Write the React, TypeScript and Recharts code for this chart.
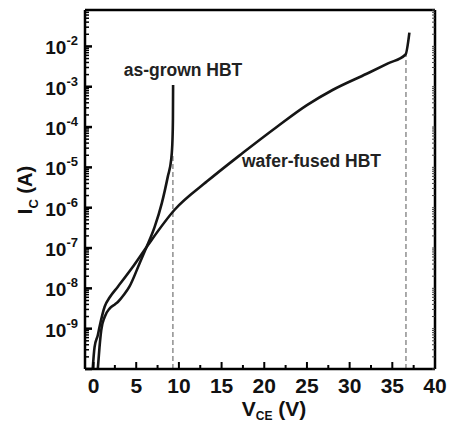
import React from 'react';
import { LineChart, Line, XAxis, YAxis, ReferenceLine } from 'recharts';

const FONT = '"Liberation Sans", Arial, Helvetica, sans-serif';

// as-grown HBT: V_CE (V) and I_C (A)
const asGrownV = [0.5, 0.7, 0.9, 1.3, 1.9, 2.5, 2.85, 3.6, 4.2, 5.4, 6.2, 7.15, 8.0, 8.7, 9.1, 9.25, 9.3, 9.32];
const asGrownI = [1.0e-10, 3.5e-10, 9.1e-10, 1.95e-9, 3.2e-9, 4.0e-9, 4.6e-9, 7.1e-9, 1.1e-8, 4.2e-8, 1.05e-7, 3.3e-7, 1.3e-6, 5.9e-6, 1.6e-5, 5.0e-5, 1.6e-4, 1.1e-3];

// wafer-fused HBT
const waferV = [-0.1, 0.12, 0.5, 0.7, 1.3, 1.9, 2.85, 4.5, 6.2, 9.5, 13.3, 17.5, 21.5, 25.0, 28.0, 32.0, 34.5, 36.55, 37.0];
const waferI = [1.0e-10, 3.5e-10, 6.9e-10, 1.1e-9, 3.5e-9, 6.0e-9, 1.1e-8, 3.2e-8, 1.05e-7, 8.9e-7, 4.5e-6, 2.3e-5, 1.02e-4, 3.5e-4, 8.3e-4, 2.1e-3, 3.8e-3, 6.3e-3, 2.2e-2];

// breakdown markers (dashed verticals)
const asGrownBreakdownV = 9.3;
const asGrownBreakdownI = 2.0e-5;
const waferBreakdownV = 36.6;
const waferBreakdownI = 6.5e-3;

const xDomain = [-1, 40];
const xTicks = [0, 2.5, 5, 7.5, 10, 12.5, 15, 17.5, 20, 22.5, 25, 27.5, 30, 32.5, 35, 37.5, 40];
const xLabelTicks = [0, 5, 10, 15, 20, 25, 30, 35, 40];

const yDomain = [1e-10, 0.08];
const yExponents = [-10, -9, -8, -7, -6, -5, -4, -3, -2];
const yLabelExponents = [-9, -8, -7, -6, -5, -4, -3, -2];
const yMantissas = [1, 2, 3, 4, 5, 6, 7, 8, 9];

const yTicks: number[] = [];
yExponents.forEach((e) => {
  yMantissas.forEach((m) => {
    const v = Number((m * Math.pow(10, e)).toPrecision(3));
    if (v <= yDomain[1]) yTicks.push(v);
  });
});

const asGrownData = asGrownV.map((v, k) => ({ v, i: asGrownI[k] }));
const waferData = waferV.map((v, k) => ({ v, i: waferI[k] }));

const isMajorY = (v: number) => {
  const l = Math.log10(v);
  return Math.abs(l - Math.round(l)) < 1e-6;
};

const BottomTick = (props: any) => {
  const { x, y, payload } = props;
  const v = payload.value;
  const major = xLabelTicks.includes(v);
  return (
    <g>
      <line x1={x} x2={x} y1={y} y2={y - (major ? 7 : 4)} stroke="#000" strokeWidth={2} />
      {major && (
        <text x={x} y={y + 24} textAnchor="middle" fontSize={21} fontWeight="bold" fontFamily={FONT} fill="#111">
          {v}
        </text>
      )}
    </g>
  );
};

const TopTick = (props: any) => {
  const { x, y } = props;
  return <line x1={x} x2={x} y1={y} y2={y + 3} stroke="#444" strokeWidth={1} />;
};

const LeftTick = (props: any) => {
  const { x, y, payload } = props;
  const v = payload.value;
  const major = isMajorY(v);
  const e = Math.round(Math.log10(v));
  const showLabel = major && yLabelExponents.includes(e);
  return (
    <g>
      <line x1={x} x2={x + (major ? 7 : 4)} y1={y} y2={y} stroke="#000" strokeWidth={major ? 2.5 : 1.5} />
      {showLabel && (
        <text x={x - 7} y={y + 8} textAnchor="end" fontSize={19} fontWeight="bold" fontFamily={FONT} fill="#111">
          10
          <tspan dy={-9} fontSize={13}>{String(e)}</tspan>
        </text>
      )}
    </g>
  );
};

const RightTick = (props: any) => {
  const { x, y } = props;
  return <line x1={x} x2={x - 3} y1={y} y2={y} stroke="#444" strokeWidth={1} />;
};

export default function App() {
  return (
    <div style={{ position: 'absolute', left: 0, top: 0, width: 449, height: 424, background: '#fff' }}>
      <LineChart width={449} height={424} margin={{ top: 0, right: 0, bottom: 0, left: 0 }}>
        <XAxis
          xAxisId="b"
          type="number"
          dataKey="v"
          domain={xDomain}
          ticks={xTicks}
          allowDataOverflow
          orientation="bottom"
          height={55}
          tickSize={0}
          tickMargin={0}
          tickLine={false}
          axisLine={{ stroke: '#000', strokeWidth: 2.5 }}
          tick={<BottomTick />}
          interval={0}
        />
        <XAxis
          xAxisId="t"
          type="number"
          domain={xDomain}
          ticks={xTicks}
          allowDataOverflow
          orientation="top"
          height={10}
          tickSize={0}
          tickMargin={0}
          tickLine={false}
          axisLine={{ stroke: '#000', strokeWidth: 2.5 }}
          tick={<TopTick />}
          interval={0}
        />
        <YAxis
          yAxisId="l"
          type="number"
          scale="log"
          domain={yDomain}
          ticks={yTicks}
          allowDataOverflow
          orientation="left"
          width={85}
          tickSize={0}
          tickMargin={0}
          tickLine={false}
          axisLine={{ stroke: '#000', strokeWidth: 2.5 }}
          tick={<LeftTick />}
          interval={0}
        />
        <YAxis
          yAxisId="r"
          type="number"
          scale="log"
          domain={yDomain}
          ticks={yTicks}
          allowDataOverflow
          orientation="right"
          width={14}
          tickSize={0}
          tickMargin={0}
          tickLine={false}
          axisLine={{ stroke: '#000', strokeWidth: 2.5 }}
          tick={<RightTick />}
          interval={0}
        />
        <ReferenceLine
          xAxisId="b"
          yAxisId="l"
          segment={[{ x: asGrownBreakdownV, y: yDomain[0] }, { x: asGrownBreakdownV, y: asGrownBreakdownI }]}
          stroke="#555"
          strokeWidth={1}
          strokeDasharray="5 3"
        />
        <ReferenceLine
          xAxisId="b"
          yAxisId="l"
          segment={[{ x: waferBreakdownV, y: yDomain[0] }, { x: waferBreakdownV, y: waferBreakdownI }]}
          stroke="#555"
          strokeWidth={1}
          strokeDasharray="5 3"
        />
        <Line
          xAxisId="b"
          yAxisId="l"
          data={asGrownData}
          dataKey="i"
          type="monotone"
          stroke="#151515"
          strokeWidth={2.6}
          dot={false}
          isAnimationActive={false}
        />
        <Line
          xAxisId="b"
          yAxisId="l"
          data={waferData}
          dataKey="i"
          type="monotone"
          stroke="#151515"
          strokeWidth={2.6}
          dot={false}
          isAnimationActive={false}
        />
      </LineChart>
      <svg width={449} height={424} style={{ position: 'absolute', left: 0, top: 0, pointerEvents: 'none' }}>
        <text x={183} y={76} textAnchor="middle" fontSize={17.5} fontWeight="bold" fontFamily={FONT} fill="#222">
          as-grown HBT
        </text>
        <text x={242} y={167} textAnchor="start" fontSize={17.5} fontWeight="bold" fontFamily={FONT} fill="#222">
          wafer-fused HBT
        </text>
        <text x={274} y={416} textAnchor="middle" fontSize={21} fontWeight="bold" fontFamily={FONT} fill="#111">
          V<tspan dy={4} fontSize={12}>CE</tspan>
          <tspan dy={-4}> (V)</tspan>
        </text>
        <text transform="translate(32,190) rotate(-90)" textAnchor="middle" fontSize={20} fontWeight="bold" fontFamily={FONT} fill="#111">
          I<tspan dy={6} fontSize={13}>C</tspan>
          <tspan dy={-6}> (A)</tspan>
        </text>
      </svg>
    </div>
  );
}
